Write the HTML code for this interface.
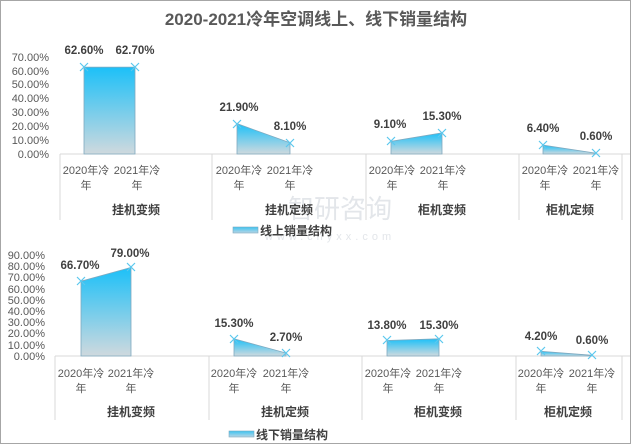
<!DOCTYPE html>
<html><head><meta charset="utf-8"><style>
body{margin:0;background:#fff}
svg{display:block;font-family:"Liberation Sans","Noto Sans CJK SC",sans-serif}
.t{fill:#595959;font-size:11px}
.d{fill:#404040;font-size:11.5px;font-weight:bold}
.c{fill:#595959;font-size:11px;text-anchor:middle}
.g{fill:#404040;font-size:12px;text-anchor:middle;font-weight:bold}
</style></head><body>
<svg width="631" height="444" viewBox="0 0 631 444">
<defs>
<linearGradient id="gr" x1="0" y1="0" x2="0" y2="1">
<stop offset="0" stop-color="#1cc0f8"/><stop offset="1" stop-color="#cfd9de"/>
</linearGradient>
<linearGradient id="lg" x1="0" y1="0" x2="0" y2="1">
<stop offset="0" stop-color="#3cc4f2"/><stop offset="1" stop-color="#b9d6e4"/>
</linearGradient>
</defs>
<rect x="0.5" y="0.5" width="630" height="443" fill="#fff" stroke="#a6a6a6"/>
<text x="316" y="25" text-anchor="middle" style="font-size:17px;font-weight:bold;fill:#595959">2020-2021冷年空调线上、线下销量结构</text>

<text x="340" y="218" text-anchor="middle" style="font-size:26px;fill:#e3e6ea">智研咨询</text>
<text x="330" y="240" text-anchor="middle" style="font-size:11px;fill:#e3e6ea;letter-spacing:4px">www.chyxx.com</text>

<g class="t" text-anchor="end">
<text x="49" y="61">70.00%</text><text x="49" y="75">60.00%</text><text x="49" y="88">50.00%</text><text x="49" y="102">40.00%</text><text x="49" y="116">30.00%</text><text x="49" y="130">20.00%</text><text x="49" y="144">10.00%</text><text x="49" y="158">0.00%</text>
</g>
<g stroke="#d9d9d9" fill="none">
<line x1="60" y1="154" x2="630" y2="154"/>
<line x1="60" y1="154" x2="60" y2="220"/><line x1="212" y1="154" x2="212" y2="220"/><line x1="366" y1="154" x2="366" y2="220"/><line x1="519" y1="154" x2="519" y2="220"/><line x1="622" y1="154" x2="622" y2="220"/>
</g>
<g fill="url(#gr)" stroke="#7fa9bf" stroke-width="0.8">
<polygon points="84,154 84,67.2 135,67.1 135,154"/>
<polygon points="237,154 237,123.6 290,142.8 290,154"/>
<polygon points="391,154 391,141.4 442,132.8 442,154"/>
<polygon points="543,154 543,145.1 596,153.2 596,154"/>
</g>
<g stroke="#5bc8ee" stroke-width="1.2">
<path d="M80,63l8,8M88,63l-8,8M131,63l8,8M139,63l-8,8M233,120l8,8M241,120l-8,8M286,139l8,8M294,139l-8,8M387,137l8,8M395,137l-8,8M438,129l8,8M446,129l-8,8M539,141l8,8M547,141l-8,8M592,149l8,8M600,149l-8,8"/>
</g>
<g class="d" text-anchor="middle">
<text x="84" y="54">62.60%</text><text x="135" y="54">62.70%</text>
<text x="239" y="111">21.90%</text><text x="290" y="130">8.10%</text>
<text x="390" y="128">9.10%</text><text x="442" y="120">15.30%</text>
<text x="543" y="132">6.40%</text><text x="596" y="140">0.60%</text>
</g>
<g class="c">
<text x="86" y="174">2020年冷</text><text x="86" y="189">年</text><text x="137" y="174">2021年冷</text><text x="137" y="189">年</text>
<text x="239" y="174">2020年冷</text><text x="239" y="189">年</text><text x="290" y="174">2021年冷</text><text x="290" y="189">年</text>
<text x="392" y="174">2020年冷</text><text x="392" y="189">年</text><text x="443" y="174">2021年冷</text><text x="443" y="189">年</text>
<text x="545" y="174">2020年冷</text><text x="545" y="189">年</text><text x="596" y="174">2021年冷</text><text x="596" y="189">年</text>
</g>
<g class="g"><text x="136" y="214">挂机变频</text><text x="289" y="214">挂机定频</text><text x="442" y="214">柜机变频</text><text x="570" y="214">柜机定频</text></g>
<rect x="233" y="227" width="25" height="6" fill="url(#lg)" stroke="#7fa9bf" stroke-width="0.6"/>
<text x="260" y="235" style="font-size:12px;fill:#404040;font-weight:bold">线上销量结构</text>

<g class="t" text-anchor="end">
<text x="45" y="259">90.00%</text><text x="45" y="270">80.00%</text><text x="45" y="281">70.00%</text><text x="45" y="293">60.00%</text><text x="45" y="304">50.00%</text><text x="45" y="315">40.00%</text><text x="45" y="326">30.00%</text><text x="45" y="337">20.00%</text><text x="45" y="349">10.00%</text><text x="45" y="360">0.00%</text>
</g>
<g stroke="#d9d9d9" fill="none">
<line x1="55" y1="356" x2="630" y2="356"/>
<line x1="55" y1="356" x2="55" y2="420"/><line x1="209" y1="356" x2="209" y2="420"/><line x1="362" y1="356" x2="362" y2="420"/><line x1="516" y1="356" x2="516" y2="420"/><line x1="622" y1="356" x2="622" y2="420"/>
</g>
<g fill="url(#gr)" stroke="#7fa9bf" stroke-width="0.8">
<polygon points="81,356 81,281.2 131,267.4 131,356"/>
<polygon points="234,356 234,338.8 286,353 286,356"/>
<polygon points="387,356 387,340.5 439,338.8 439,356"/>
<polygon points="541,356 541,351.3 592,355.3 592,356"/>
</g>
<g stroke="#5bc8ee" stroke-width="1.2">
<path d="M77,277l8,8M85,277l-8,8M127,263l8,8M135,263l-8,8M230,335l8,8M238,335l-8,8M282,349l8,8M290,349l-8,8M383,336l8,8M391,336l-8,8M435,335l8,8M443,335l-8,8M537,347l8,8M545,347l-8,8M588,351l8,8M596,351l-8,8"/>
</g>
<g class="d" text-anchor="middle">
<text x="80" y="269">66.70%</text><text x="130" y="257">79.00%</text>
<text x="234" y="327">15.30%</text><text x="286" y="341">2.70%</text>
<text x="387" y="329">13.80%</text><text x="439" y="329">15.30%</text>
<text x="541" y="340">4.20%</text><text x="592" y="344">0.60%</text>
</g>
<g class="c">
<text x="81" y="377">2020年冷</text><text x="81" y="392">年</text><text x="131" y="377">2021年冷</text><text x="131" y="392">年</text>
<text x="234" y="377">2020年冷</text><text x="234" y="392">年</text><text x="286" y="377">2021年冷</text><text x="286" y="392">年</text>
<text x="388" y="377">2020年冷</text><text x="388" y="392">年</text><text x="439" y="377">2021年冷</text><text x="439" y="392">年</text>
<text x="541" y="377">2020年冷</text><text x="541" y="392">年</text><text x="592" y="377">2021年冷</text><text x="592" y="392">年</text>
</g>
<g class="g"><text x="131" y="416">挂机变频</text><text x="285" y="416">挂机定频</text><text x="438" y="416">柜机变频</text><text x="568" y="416">柜机定频</text></g>
<rect x="229" y="431" width="25" height="6" fill="url(#lg)" stroke="#7fa9bf" stroke-width="0.6"/>
<text x="256" y="439" style="font-size:12px;fill:#404040;font-weight:bold">线下销量结构</text>
</svg>
</body></html>
